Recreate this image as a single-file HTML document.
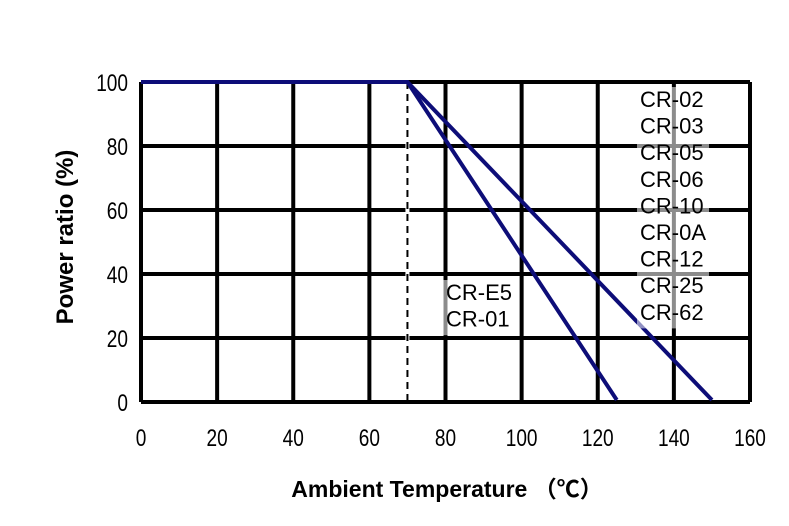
<!DOCTYPE html>
<html><head><meta charset="utf-8"><style>
body{margin:0;background:#fff;width:789px;height:521px;overflow:hidden}
text{font-family:"Liberation Sans","Noto Sans CJK SC",sans-serif}
</style></head><body>
<svg id="chart" width="789" height="521" xmlns="http://www.w3.org/2000/svg">
<g id="grid"></g>
<g id="ticks"></g>
<g id="series"></g>
<g id="labels"></g>
<text transform="translate(73,237) rotate(-90)" text-anchor="middle" style="font-size:24px;font-weight:bold">Power ratio (%)</text>
<text x="447" y="497" text-anchor="middle" style="font-size:23px;font-weight:bold">Ambient Temperature （℃）</text>
</svg>
<script>
const xTicks=[0,20,40,60,80,100,120,140,160];
const yTicks=[0,20,40,60,80,100];
const seriesA=[[0,100],[70,100],[125,0]];
const seriesB=[[70,100],[150,0]];
const kneeX=70;
const labelsA=["CR-E5","CR-01"];
const labelsB=["CR-02","CR-03","CR-05","CR-06","CR-10","CR-0A","CR-12","CR-25","CR-62"];
const X0=141,X1=750,Y0=402,Y1=82;
const sx=v=>X0+(v-0)/(160-0)*(X1-X0);
const sy=v=>Y0-(v-0)/(100-0)*(Y0-Y1);
const NS="http://www.w3.org/2000/svg";
function mk(tag,attrs,parent){const e=document.createElementNS(NS,tag);for(const k in attrs)e.setAttribute(k,attrs[k]);parent.appendChild(e);return e;}
const grid=document.getElementById('grid'),ticks=document.getElementById('ticks'),series=document.getElementById('series'),labels=document.getElementById('labels');
xTicks.forEach(v=>{
 const l=mk('line',{x1:sx(v),x2:sx(v),y1:Y1,y2:Y0,stroke:'#000','stroke-width':4},grid);
 
 
 const s=String(v);
 const t=mk('text',{x:sx(v),y:446,'text-anchor':'middle',style:'font-size:24px',textLength:s.length*10.6,lengthAdjust:'spacingAndGlyphs'},ticks);
 
 
 t.textContent=s;
});
yTicks.forEach(v=>{
 const l=mk('line',{x1:X0,x2:X1,y1:sy(v),y2:sy(v),stroke:'#000','stroke-width':4},grid);
 
 
 const s=String(v);
 const t=mk('text',{x:128,y:sy(v)+9,'text-anchor':'end',style:'font-size:24px',textLength:s.length*10.6,lengthAdjust:'spacingAndGlyphs'},ticks);
 
 
 t.textContent=s;
});
const wb=mk('rect',{x:sx(kneeX)-2,y:Y1+3,width:4,height:Y0-Y1-5,fill:'#fff'},grid);


const knee=mk('line',{x1:sx(kneeX),x2:sx(kneeX),y1:sy(100),y2:Y0,stroke:'#000','stroke-width':2,'stroke-dasharray':'7,5'},series);


[[seriesA,'curve-cr-e5'],[seriesB,'curve-cr-02']].forEach(([s,n])=>{
 const p=mk('polyline',{points:s.map(d=>sx(d[0])+','+(sy(d[1])-(d[1]===0?2:0))).join(' '),fill:'none',stroke:'#0d0d78','stroke-width':4},series);
 
 
});
function block(arr,x,y,name){
 const g=mk('g',{},labels);
 
 
 mk('rect',{x:x-3,y:y-20,width:72,height:arr.length*26.6+2,fill:'rgba(255,255,255,0.55)'},g);
 arr.forEach((s,i)=>{const t=mk('text',{x:x,y:y+i*26.6,style:'font-size:22px'},g);t.textContent=s;});
}
block(labelsA,446,300,'label-cr-e5');
block(labelsB,640,107,'label-cr-02');
</script>
</body></html>
